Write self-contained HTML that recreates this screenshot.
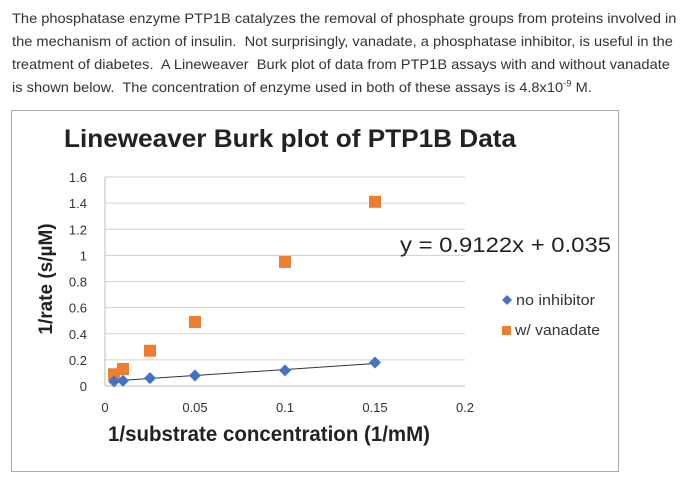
<!DOCTYPE html>
<html><head><meta charset="utf-8"><style>
body{margin:0;background:#fff;width:683px;height:489px;overflow:hidden;position:relative;font-family:"Liberation Sans",sans-serif}
#para{position:absolute;left:12px;top:7px;font-size:14px;line-height:23px;color:#333;white-space:nowrap}
#para div{transform-origin:0 0;transform:scaleX(1.045)}
</style></head><body>
<div id="para">
<div>The phosphatase enzyme PTP1B catalyzes the removal of phosphate groups from proteins involved in</div>
<div>the mechanism of action of insulin.&nbsp; Not surprisingly, vanadate, a phosphatase inhibitor, is useful in the</div>
<div>treatment of diabetes.&nbsp; A Lineweaver&nbsp; Burk plot of data from PTP1B assays with and without vanadate</div>
<div>is shown below.&nbsp; The concentration of enzyme used in both of these assays is 4.8x10<sup style="font-size:9px;line-height:0">-9</sup> M.</div>
</div>
<svg id="chart" width="683" height="489" style="position:absolute;left:0;top:0"></svg>
<script>
const xTicks=[0,0.05,0.1,0.15,0.2];
const xTickLabels=["0","0.05","0.1","0.15","0.2"];
const yTicks=[0,0.2,0.4,0.6,0.8,1,1.2,1.4,1.6];
const yTickLabels=["0","0.2","0.4","0.6","0.8","1","1.2","1.4","1.6"];
const substrateX=[0.005,0.01,0.025,0.05,0.1,0.15];
const noInhibitor=[0.035,0.04,0.06,0.08,0.12,0.18];
const vanadate=[0.09,0.13,0.27,0.49,0.95,1.41];
const slope=0.9122, intercept=0.035;

const NS="http://www.w3.org/2000/svg";
const svg=document.getElementById('chart');
const X=v=>105+v/0.2*360;
const Y=v=>386-v/1.6*209;
function mk(t,a,p){const e=document.createElementNS(NS,t);for(const k in a)e.setAttribute(k,a[k]);(p||svg).appendChild(e);return e;}

const border=mk('rect',{x:11.5,y:110.5,width:607,height:361,fill:'none',stroke:'#aaa'});



const title=mk('text',{x:64,y:147,'font-size':25,'font-weight':'bold',fill:'#222',textLength:452,lengthAdjust:'spacingAndGlyphs'});
title.textContent='Lineweaver Burk plot of PTP1B Data';



yTicks.forEach((v,i)=>{
  const g=mk('line',{x1:105,x2:465,y1:Y(v),y2:Y(v),stroke:i==0?'#bbb':'#d0d0d0','stroke-width':1});
  
  
  const t=mk('text',{x:87,y:Y(v)+5,'text-anchor':'end','font-size':13,fill:'#333'});
  t.textContent=yTickLabels[i];
  
  
});
const yax=mk('line',{x1:105,x2:105,y1:Y(1.6),y2:Y(0),stroke:'#bbb'});


xTicks.forEach((v,i)=>{
  const t=mk('text',{x:X(v),y:412,'text-anchor':'middle','font-size':13,fill:'#333'});
  t.textContent=xTickLabels[i];
  
  
});
const xt=mk('text',{x:108,y:441,'font-size':21,'font-weight':'bold',fill:'#222',textLength:322,lengthAdjust:'spacingAndGlyphs'});
xt.textContent='1/substrate concentration (1/mM)';


const yt=mk('text',{x:0,y:0,'text-anchor':'middle','font-size':19,'font-weight':'bold',fill:'#222',transform:'translate(52,279) rotate(-90)'});
yt.textContent='1/rate (s/µM)';



const tl=mk('line',{x1:X(substrateX[0]),y1:Y(slope*substrateX[0]+intercept),x2:X(substrateX[5]),y2:Y(slope*substrateX[5]+intercept),stroke:'#333','stroke-width':1});



vanadate.forEach((v,i)=>{
  const r=mk('rect',{x:X(substrateX[i])-6,y:Y(v)-6,width:12,height:12,fill:'#ed7d31'});
  
  
});
noInhibitor.forEach((v,i)=>{
  const cx=X(substrateX[i]),cy=Y(v);
  const p=mk('polygon',{points:`${cx},${cy-6} ${cx+6},${cy} ${cx},${cy+6} ${cx-6},${cy}`,fill:'#4472c4'});
  
  
});

const eq=mk('text',{x:400,y:252,'font-size':21,fill:'#222',textLength:211,lengthAdjust:'spacingAndGlyphs'});
eq.textContent='y = 0.9122x + 0.035';



const lg=mk('g',{});


const ld=mk('polygon',{points:'507,295 512,300 507,305 502,300',fill:'#4472c4'},lg);


const lt1=mk('text',{x:516,y:305,'font-size':15,fill:'#333',textLength:79,lengthAdjust:'spacingAndGlyphs'},lg);
lt1.textContent='no inhibitor';


const ls=mk('rect',{x:502,y:326,width:9,height:9,fill:'#ed7d31'},lg);


const lt2=mk('text',{x:515,y:335,'font-size':15,fill:'#333',textLength:85,lengthAdjust:'spacingAndGlyphs'},lg);
lt2.textContent='w/ vanadate';


</script>
</body></html>
